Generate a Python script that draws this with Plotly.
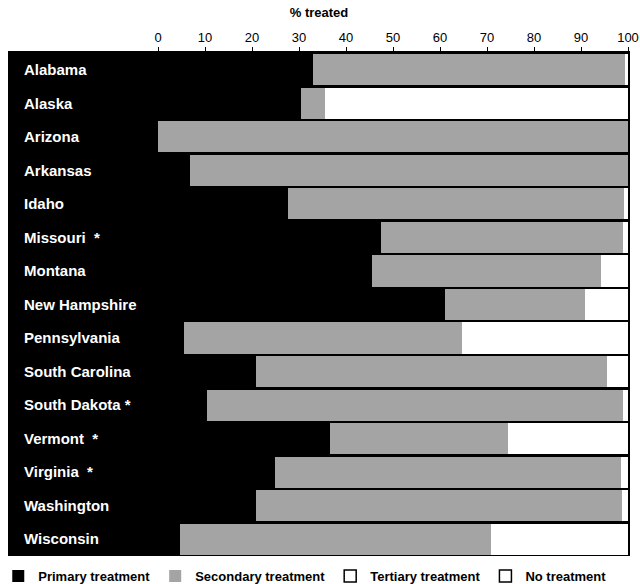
import plotly.graph_objects as go

states = ["Alabama", "Alaska", "Arizona", "Arkansas", "Idaho", "Missouri  *", "Montana",
          "New Hampshire", "Pennsylvania", "South Carolina", "South Dakota *", "Vermont  *",
          "Virginia  *", "Washington", "Wisconsin"]
primary = [33, 30.5, 0, 6.7, 27.7, 47.4, 45.6, 61, 5.6, 20.8, 10.5, 36.6, 24.9, 20.8, 4.7]
secondary = [66.3, 5.1, 100, 93.3, 71.5, 51.6, 48.7, 29.8, 59.1, 74.7, 88.5, 37.9, 73.6, 77.9, 66.1]
tertiary = [0, 0, 0, 0, 0, 0, 0, 0, 0, 0, 0, 0, 0, 0, 0]
untreated = [round(100 - p - s - t, 1) for p, s, t in zip(primary, secondary, tertiary)]
x_ticks = [0, 10, 20, 30, 40, 50, 60, 70, 80, 90, 100]

FONT = "Liberation Sans, Arial, sans-serif"

fig = go.Figure()
fig.add_trace(go.Bar(name="Primary treatment", y=states, x=primary, orientation="h",
                     marker=dict(color="black", line=dict(width=0))))
fig.add_trace(go.Bar(name="Secondary treatment", y=states, x=secondary, orientation="h",
                     marker=dict(color="#a4a4a4", line=dict(width=0))))
fig.add_trace(go.Bar(name="Tertiary treatment", y=states, x=tertiary, orientation="h",
                     marker=dict(color="white", line=dict(width=0)), showlegend=False,
                     legendgroup="t"))
fig.add_trace(go.Bar(name="No treatment", y=states, x=untreated, orientation="h",
                     marker=dict(color="white", line=dict(width=0)), showlegend=False,
                     legendgroup="n"))
# legend entries for the two white categories (outlined boxes)
fig.add_trace(go.Bar(name="Tertiary treatment", y=[None], x=[None], orientation="h",
                     marker=dict(color="white", line=dict(color="black", width=1.5)),
                     legendgroup="t"))
fig.add_trace(go.Bar(name="No treatment", y=[None], x=[None], orientation="h",
                     marker=dict(color="white", line=dict(color="black", width=1.5)),
                     legendgroup="n"))

fig.update_layout(
    width=640, height=584,
    barmode="stack", bargap=0.07,
    plot_bgcolor="black", paper_bgcolor="white",
    margin=dict(l=10, r=12, t=53, b=28, autoexpand=False),
    font=dict(family=FONT, color="black", size=13),
    legend=dict(orientation="h", x=-0.019, xanchor="left", y=-0.01, yanchor="top",
                font=dict(family=FONT, size=13, color="black", weight="bold"),
                traceorder="normal", itemwidth=30, tracegroupgap=0),
    xaxis=dict(side="top", range=[-31.5, 100], tickvals=x_ticks, automargin=False,
               ticks="outside", ticklen=4, tickcolor="black", tickwidth=1,
               ticklabeloverflow="allow",
               showline=True, linecolor="black", linewidth=1.5, showgrid=False, zeroline=False,
               tickfont=dict(family=FONT, size=13, color="black"),
               title=dict(text="<b>% treated</b>", font=dict(family=FONT, size=13), standoff=9)),
    yaxis=dict(categoryorder="array", categoryarray=states, autorange="reversed",
               ticklabelposition="inside", ticks="", showgrid=False, automargin=False,
               ticklabelstandoff=14,
               showline=True, mirror=True, linecolor="black", linewidth=2,
               tickfont=dict(family=FONT, size=15, color="white", weight="bold")),
)

fig.write_html("out.html", config={"displayModeBar": False},
               post_script="document.body.style.margin='0px';document.body.style.overflow='hidden';")
